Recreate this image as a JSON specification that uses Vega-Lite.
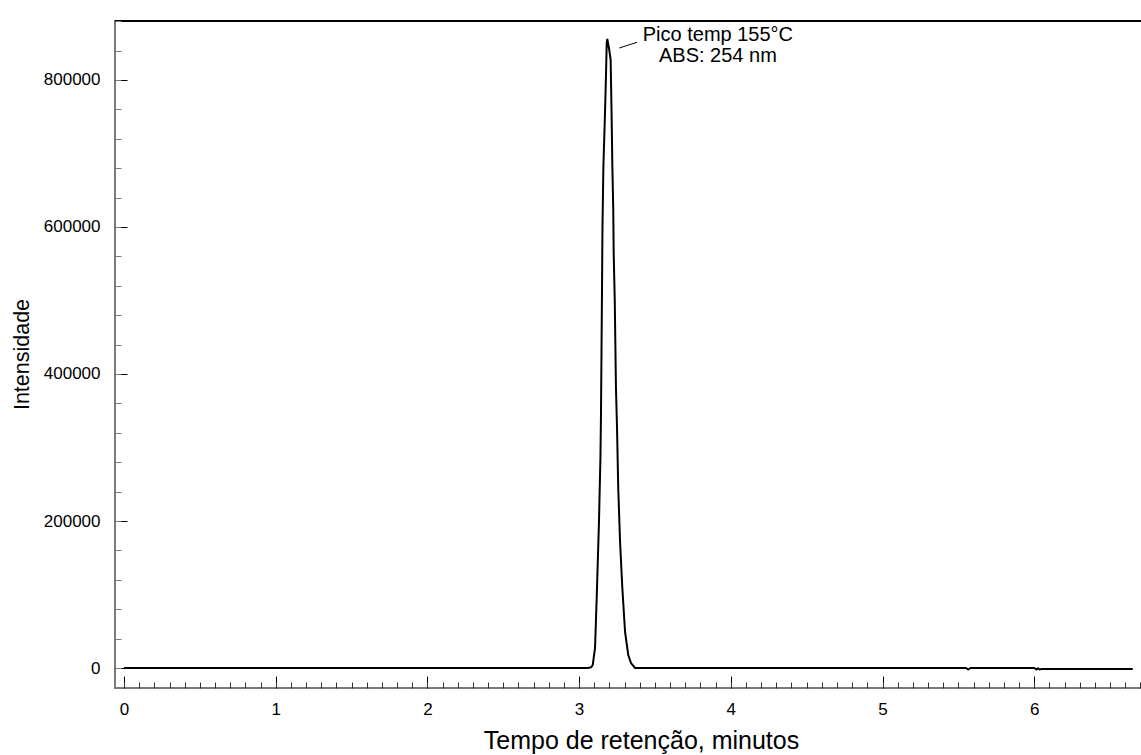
{
  "$schema": "https://vega.github.io/schema/vega-lite/v6.json",
  "width": 1027,
  "height": 667,
  "autosize": {"type": "none"},
  "padding": {"left": 115, "top": 21, "right": 0, "bottom": 67},
  "background": "white",
  "config": {
    "view": {"stroke": "#7a7a7a", "strokeWidth": 2},
    "font": "Liberation Sans",
    "axis": {
      "grid": false,
      "labelFont": "Liberation Sans",
      "titleFont": "Liberation Sans",
      "labelColor": "black",
      "titleColor": "black",
      "titleFontWeight": "normal",
      "tickWidth": 1
    }
  },
  "resolve": {"axis": {"x": "independent", "y": "independent"}},
  "layer": [
    {
      "data": {"values": [
        {"t": 0, "i": 0}, {"t": 0.5, "i": 0}, {"t": 1, "i": 0}, {"t": 2, "i": 0}, {"t": 3, "i": 0},
        {"t": 3.06, "i": 0}, {"t": 3.08, "i": 1200}, {"t": 3.09, "i": 4100},
        {"t": 3.105, "i": 27200}, {"t": 3.116, "i": 95200}, {"t": 3.131, "i": 198600},
        {"t": 3.141, "i": 289800}, {"t": 3.144, "i": 340100}, {"t": 3.151, "i": 514300},
        {"t": 3.154, "i": 598600}, {"t": 3.16, "i": 681600}, {"t": 3.169, "i": 742800},
        {"t": 3.177, "i": 804100}, {"t": 3.182, "i": 850000}, {"t": 3.186, "i": 855800},
        {"t": 3.199, "i": 840800},
        {"t": 3.208, "i": 827200}, {"t": 3.215, "i": 742800}, {"t": 3.219, "i": 684300},
        {"t": 3.225, "i": 625800}, {"t": 3.228, "i": 564600}, {"t": 3.235, "i": 500700},
        {"t": 3.243, "i": 380900}, {"t": 3.25, "i": 326500}, {"t": 3.258, "i": 244900},
        {"t": 3.27, "i": 171400}, {"t": 3.285, "i": 108800}, {"t": 3.303, "i": 49000},
        {"t": 3.324, "i": 17700}, {"t": 3.342, "i": 6800}, {"t": 3.369, "i": 0},
        {"t": 3.4, "i": 0}, {"t": 4, "i": 0}, {"t": 5, "i": 0}, {"t": 5.55, "i": 0},
        {"t": 5.565, "i": -2000}, {"t": 5.58, "i": 0}, {"t": 6.0, "i": 0},
        {"t": 6.015, "i": -2000}, {"t": 6.025, "i": -400}, {"t": 6.035, "i": -2000},
        {"t": 6.05, "i": -1500}, {"t": 6.65, "i": -1500}
      ]},
      "mark": {"type": "line", "color": "black", "strokeWidth": 2, "clip": true},
      "encoding": {
        "x": {
          "field": "t", "type": "quantitative",
          "scale": {"domain": [-0.0593, 6.7106], "nice": false, "zero": false},
          "axis": {
            "orient": "bottom",
            "offset": -12,
            "domain": false,
            "values": [0, 1, 2, 3, 4, 5, 6],
            "format": "d",
            "tickSize": 12,
            "tickColor": "black",
            "labelFontSize": 17,
            "labelPadding": 13,
            "title": "Tempo de retenção, minutos",
            "titleFontSize": 25,
            "titleX": 526,
            "titleY": 72,
            "titleBaseline": "alphabetic",
            "titleAlign": "center"
          }
        },
        "y": {
          "field": "i", "type": "quantitative",
          "scale": {"domain": [-27200, 880250], "nice": false, "zero": false},
          "axis": {
            "orient": "left",
            "offset": -12,
            "domain": false,
            "values": [0, 200000, 400000, 600000, 800000],
            "format": "d",
            "tickSize": 12,
            "tickColor": "black",
            "labelFontSize": 17,
            "labelPadding": 15,
            "title": "Intensidade",
            "titleFontSize": 21.5,
            "titleAngle": -90,
            "titleX": -105,
            "titleY": 333,
            "titleBaseline": "middle",
            "titleAlign": "center"
          }
        }
      }
    },
    {
      "data": {"values": [
        {"x1": 3.265, "y1": 843500, "x2": 3.382, "y2": 851300}
      ]},
      "mark": {"type": "rule", "color": "black", "strokeWidth": 1},
      "encoding": {
        "x": {
          "field": "x1", "type": "quantitative",
          "axis": {
            "orient": "bottom",
            "offset": -6,
            "values": [0,0.1,0.2,0.3,0.4,0.5,0.6,0.7,0.8,0.9,1,1.1,1.2,1.3,1.4,1.5,1.6,1.7,1.8,1.9,2,2.1,2.2,2.3,2.4,2.5,2.6,2.7,2.8,2.9,3,3.1,3.2,3.3,3.4,3.5,3.6,3.7,3.8,3.9,4,4.1,4.2,4.3,4.4,4.5,4.6,4.7,4.8,4.9,5,5.1,5.2,5.3,5.4,5.5,5.6,5.7,5.8,5.9,6,6.1,6.2,6.3,6.4,6.5,6.6,6.7],
            "tickSize": 6,
            "tickColor": "#333333",
            "labels": false,
            "domain": false,
            "title": null
          }
        },
        "x2": {"field": "x2"},
        "y": {
          "field": "y1", "type": "quantitative",
          "axis": {
            "orient": "left",
            "offset": -6,
            "values": [0,40000,80000,120000,160000,200000,240000,280000,320000,360000,400000,440000,480000,520000,560000,600000,640000,680000,720000,760000,800000,840000,880000],
            "tickSize": 6,
            "tickColor": "#7a7a7a",
            "labels": false,
            "domain": false,
            "title": null
          }
        },
        "y2": {"field": "y2"}
      }
    },
    {
      "data": {"values": [
        {"t": 3.915, "i": 853000, "label": "Pico temp 155°C"},
        {"t": 3.915, "i": 824500, "label": "ABS: 254 nm"}
      ]},
      "mark": {"type": "text", "font": "Liberation Sans", "fontSize": 20, "align": "center", "baseline": "alphabetic", "color": "black"},
      "encoding": {
        "x": {
          "field": "t", "type": "quantitative",
          "axis": {"orient": "top", "ticks": false, "labels": false, "domainColor": "black", "domainWidth": 2, "translate": 0, "title": null}
        },
        "y": {"field": "i", "type": "quantitative", "axis": null},
        "text": {"field": "label"}
      }
    }
  ]
}
